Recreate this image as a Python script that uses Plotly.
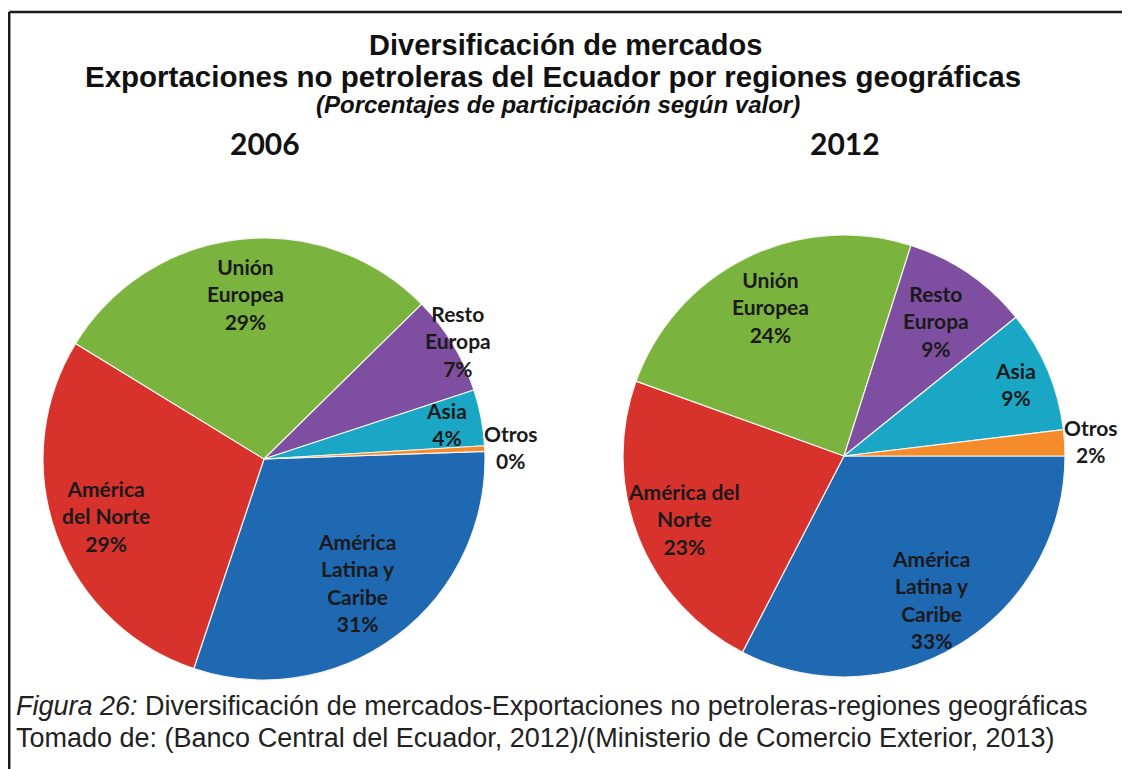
import math
import plotly.graph_objects as go

# ---------------- data ----------------
regions = ["América Latina y Caribe", "América del Norte", "Unión Europea",
           "Resto Europa", "Asia", "Otros"]
names_2006 = ["América<br>Latina y<br>Caribe", "América<br>del Norte", "Unión<br>Europea",
              "Resto<br>Europa", "Asia", "Otros"]
names_2012 = ["América<br>Latina y<br>Caribe", "América del<br>Norte", "Unión<br>Europea",
              "Resto<br>Europa", "Asia", "Otros"]
values_2006 = [30.7, 28.6, 28.9, 7.3, 4.1, 0.4]
values_2012 = [32.6, 22.9, 24.4, 9.3, 8.9, 1.9]
years = ["2006", "2012"]

# ---------------- style ----------------
colors = ["#1F68B2", "#D8322D", "#7BB33F", "#7E4FA0", "#1AA6C5", "#F58B2A"]
label_r_2006 = [0.70, 0.76, 0.75, 1.03, 0.84, 1.12]
label_r_2012 = [0.76, 0.78, 0.75, 0.74, 0.84, 1.12]
rot_2006, rot_2012 = 88, 90

W, H = 1130, 769
OX, OY = 8, 8  # page body margin


def px_x(v):
    return (v - OX) / W


def px_y(v):
    return 1 - (v - OY) / H


label_family = "Lato, 'Open Sans', sans-serif"
title_family = "Liberation Sans, Arial, sans-serif"

# pie boxes (pixel extents in the page)
boxes = [(43, 485, 237, 681), (623, 1065, 234, 678)]

fig = go.Figure()
ann = []

for (vals, names, rot, lr, box) in [
    (values_2006, names_2006, rot_2006, label_r_2006, boxes[0]),
    (values_2012, names_2012, rot_2012, label_r_2012, boxes[1]),
]:
    x0, x1, y0, y1 = box
    fig.add_trace(go.Pie(
        labels=regions, values=vals,
        textinfo="none",
        sort=False, direction="clockwise", rotation=rot,
        marker=dict(colors=colors, line=dict(color="#f4f4ee", width=1.2)),
        showlegend=False, automargin=False,
        domain=dict(x=[px_x(x0), px_x(x1)], y=[px_y(y1), px_y(y0)]),
        hoverinfo="label+percent",
    ))
    # slice labels placed at each slice's mid-angle, computed from the values
    cx, cy = (x0 + x1) / 2, (y0 + y1) / 2
    R = min(x1 - x0, y1 - y0) / 2
    total = sum(vals)
    cum = 0.0
    for v, name, f in zip(vals, names, lr):
        mid = math.radians(rot + 360 * (cum + v / 2) / total)
        cum += v
        lx = cx + R * f * math.sin(mid)
        ly = cy - R * f * math.cos(mid)
        ann.append(dict(
            x=px_x(lx), y=px_y(ly), xref="paper", yref="paper",
            text="<b>%s<br>%d%%</b>" % (name, round(100 * v / total)),
            showarrow=False, xanchor="center", yanchor="middle",
            font=dict(size=21, family=label_family, color="#1a1a1a"),
        ))


def add_text(x, y, text, size, family, color="#111111", xanchor="center"):
    ann.append(dict(x=px_x(x), y=px_y(y), xref="paper", yref="paper", text=text,
                    showarrow=False, xanchor=xanchor, yanchor="middle",
                    font=dict(size=size, family=family, color=color)))


add_text(565, 45, "<b>Diversificación de mercados</b>", 29, title_family)
add_text(553, 76, "<b>Exportaciones no petroleras del Ecuador por regiones geográficas</b>", 29.5, title_family)
add_text(558, 105, "<b><i>(Porcentajes de participación según valor)</i></b>", 24, title_family)
add_text(265, 143, "<b>%s</b>" % years[0], 30, label_family)
add_text(845, 143, "<b>%s</b>" % years[1], 30, label_family)
add_text(14, 706, "<i>Figura 26:</i> Diversificación de mercados-Exportaciones no petroleras-regiones geográficas",
         27, title_family, color="#222222", xanchor="left")
add_text(14, 738, "Tomado de: (Banco Central del Ecuador, 2012)/(Ministerio de Comercio Exterior, 2013)",
         27, title_family, color="#222222", xanchor="left")

fig.update_layout(
    width=W, height=H,
    margin=dict(l=0, r=0, t=0, b=0),
    paper_bgcolor="white", plot_bgcolor="white",
    annotations=ann,
    shapes=[
        dict(type="line", xref="paper", yref="paper", x0=1.2 / W, x1=1.0,
             y0=px_y(12), y1=px_y(12), line=dict(color="#1a1a1a", width=2.5)),
        dict(type="line", xref="paper", yref="paper", x0=1.2 / W, x1=1.2 / W,
             y0=0, y1=px_y(12), line=dict(color="#1a1a1a", width=2.5)),
    ],
)

fig.write_html("out.html")
